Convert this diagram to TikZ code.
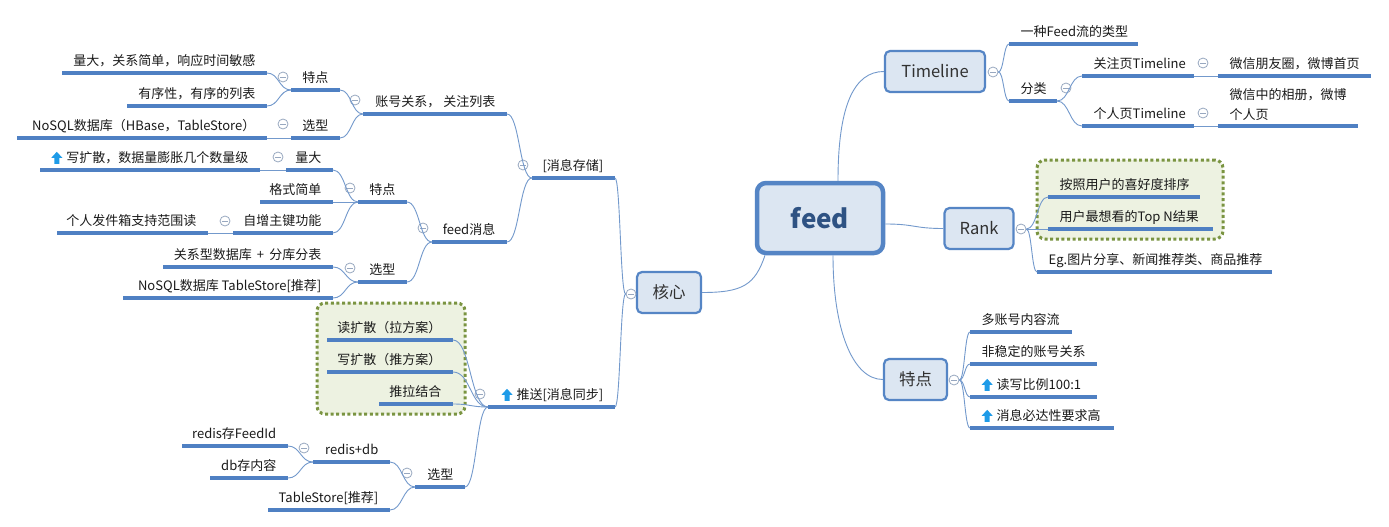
\documentclass[tikz,border=0pt]{standalone}
\usepackage{fontspec}
\setmainfont{Noto Sans CJK SC}
\usetikzlibrary{calc}
\definecolor{ulc}{HTML}{4F80C3}
\definecolor{brc}{HTML}{7399CC}
\definecolor{mkc}{HTML}{98A8C0}
\definecolor{boxf}{HTML}{DCE6F2}
\definecolor{boxd}{HTML}{5585C5}
\definecolor{feedt}{HTML}{2E5283}
\definecolor{grf}{HTML}{EDF2E1}
\definecolor{grd}{HTML}{7A9441}
\definecolor{arrc}{HTML}{1E9BE8}
\definecolor{txt}{HTML}{1A1A1A}
\newcommand\upic{\tikz[baseline=1pt,x=1pt,y=1pt]\fill[arrc] (3,0)--(8,0)--(8,6)--(11,6)--(5.5,12)--(0,6)--(3,6)--cycle;\hspace{4pt}}
\tikzset{
  leafbase/.style={font=\fontsize{13}{16}\selectfont, text=txt, inner xsep=11.5pt, inner ysep=7pt},
  leaf/.style={leafbase, text depth=0pt},
  ul/.style={draw=ulc, line width=3.2pt},
  brl/.style={draw=brc, line width=0.9pt},
  topic/.style={draw=boxd, fill=boxf, line width=2.2pt, rounded corners=5pt, font=\fontsize{16.5}{20}\selectfont, text=txt!90, inner sep=0pt},
  feedbox/.style={draw=boxd, fill=boxf, line width=4.5pt, rounded corners=9pt, font=\fontsize{26}{30}\selectfont\bfseries, text=feedt, inner sep=0pt},
  mk/.style={circle, draw=mkc, fill=white, line width=0.8pt, minimum size=10pt, inner sep=0pt,
    path picture={\draw[mkc, line width=0.8pt] ([xshift=-2.8pt]path picture bounding box.center) -- ([xshift=2.8pt]path picture bounding box.center);}},
  bound/.style={draw=grd, fill=grf, line width=3pt, dash pattern=on 3pt off 2.6pt, rounded corners=8pt, inner sep=0pt}
}
% left leaf: name, x1, x2, y, text
\newcommand\Lf[5]{\node[leaf, anchor=south east] (#1) at (#3,#4) {#5};\coordinate (#1w) at (#2,#4);\draw[ul] (#1w) -- (#1.south east);}
% right leaf
\newcommand\Rt[5]{\node[leaf, anchor=south west] (#1) at (#2,#4) {#5};\coordinate (#1e) at (#3,#4);\draw[ul] (#1.south west) -- (#1e);}
\newcommand\br[2]{\path ($(#1)!0.5!(#2)$) coordinate (bm);\draw[brl] (#1) .. controls (#1 -| bm) and (#2 -| bm) .. (#2);}
\begin{document}
\begin{tikzpicture}[x=1pt,y=-1pt]
\useasboundingbox (0,0) rectangle (1389,527);
\fill[white] (0,0) rectangle (1389,527);
% boundaries
\node[bound, minimum width=186pt, minimum height=79pt] (bd1) at (1130,199.5) {};
\node[bound, minimum width=148pt, minimum height=111pt] (bd2) at (391,358.5) {};
% main boxes
\node[feedbox, minimum width=126pt, minimum height=70pt] (feed) at (820,218) {feed};
\node[topic, minimum width=100pt, minimum height=41pt] (tl) at (935,71.5) {Timeline};
\node[topic, minimum width=69pt, minimum height=41pt] (rk) at (979,228.5) {Rank};
\node[topic, minimum width=63pt, minimum height=41pt] (tp) at (915.5,379.5) {特点};
\node[topic, minimum width=64pt, minimum height=41pt] (kx) at (669,292.5) {核心};
% feed connectors
\draw[brl] ([xshift=18pt]feed.north) .. controls +(0,-75) and +(-30,0) .. (tl.west);
\draw[brl] ([yshift=-6pt]feed.east) .. controls +(30,0) and +(-30,0) .. (rk.west);
\draw[brl] ([xshift=13pt]feed.south) .. controls +(0,75) and +(-30,0) .. (tp.west);
\draw[brl] ([xshift=-55pt]feed.south) .. controls +(-10,30) and +(40,0) .. (kx.east);
% left leaves
\Lf{a1}{62}{267}{73}{量大，关系简单，响应时间敏感}
\Lf{a2}{127}{267}{106}{有序性，有序的列表}
\Lf{a3}{17}{267}{138}{NoSQL数据库（HBase，TableStore）}
\Lf{b1}{291}{340}{90}{特点}
\Lf{b2}{291}{340}{138}{选型}
\Lf{c1}{363}{507}{114}{账号关系， 关注列表}
\Lf{c2}{432}{507}{242}{feed消息}
\Lf{d1}{532}{615}{178}{[消息存储]}
\Lf{d2}{488}{615}{407}{\upic 推送[消息同步]}
\Lf{e1}{40}{260}{170}{\upic 写扩散，数据量膨胀几个数量级}
\Lf{e2}{286}{333}{170}{量大}
\Lf{e3}{260}{333}{202}{格式简单}
\Lf{e4}{233}{333}{233}{自增主键功能}
\Lf{e5}{57}{208}{233}{个人发件箱支持范围读}
\Lf{f1}{358}{407}{202}{特点}
\Lf{f2}{358}{407}{282}{选型}
\Lf{g1}{163}{333}{267}{关系型数据库 \,+\, 分库分表}
\Lf{g2}{123}{333}{298}{NoSQL数据库 TableStore[推荐]}
\Lf{h1}{327}{453}{340}{读扩散（拉方案）}
\Lf{h2}{327}{453}{372}{写扩散（推方案）}
\Lf{h3}{379}{453}{404}{推拉结合}
\Lf{i1}{415}{465}{487}{选型}
\Lf{j1}{313}{390}{462}{redis+db}
\Lf{j2}{268}{390}{510}{TableStore[推荐]}
\Lf{k1}{182}{288}{446}{redis存FeedId}
\Lf{k2}{210}{288}{478}{db存内容}
% right leaves
\Rt{r1}{1009}{1138}{44}{一种Feed流的类型}
\Rt{r2}{1009}{1057}{101}{分类}
\Rt{r3}{1082}{1194}{76}{关注页Timeline}
\Rt{r4}{1082}{1194}{126}{个人页Timeline}
\Rt{r5}{1218}{1371}{76}{微信朋友圈，微博首页}
\node[leafbase, anchor=south west, align=left, inner ysep=5.5pt, font=\fontsize{13}{20}\selectfont] (r6) at (1218,126) {微信中的相册，微博\\个人页};
\coordinate (r6e) at (1358,126);
\draw[ul] (r6.south west) -- (r6e);
\Rt{s1}{1048}{1200}{197}{按照用户的喜好度排序}
\Rt{s2}{1048}{1213}{229}{用户最想看的Top N结果}
\Rt{s3}{1037}{1272}{272}{Eg.图片分享、新闻推荐类、商品推荐}
\Rt{t1}{970}{1072}{332}{多账号内容流}
\Rt{t2}{970}{1097}{364}{非稳定的账号关系}
\Rt{t3}{970}{1097}{397}{\upic 读写比例100:1}
\Rt{t4}{970}{1114}{428}{\upic 消息必达性要求高}
% markers
\node[mk] (mkx) at (631,294) {};
\node[mk] (md1) at (523,165) {};
\node[mk] (mc1) at (355,100) {};
\node[mk] (mb1) at (283,77) {};
\node[mk] (mb2) at (283,124) {};
\node[mk] (mc2) at (423,228) {};
\node[mk] (mf1) at (350,188) {};
\node[mk] (me2) at (278,157) {};
\node[mk] (me4) at (225,221) {};
\node[mk] (mf2) at (350,268) {};
\node[mk] (md2) at (480,394) {};
\node[mk] (mi1) at (407,473) {};
\node[mk] (mj1) at (304,448) {};
\node[mk] (mtl) at (993,72) {};
\node[mk] (mr2) at (1066,88) {};
\node[mk] (mr3) at (1203,63) {};
\node[mk] (mr4) at (1203,113) {};
\node[mk] (mrk) at (1021,229) {};
\node[mk] (mtp) at (954,380) {};
% branches left
\br{mkx.west}{d1.south east}
\br{mkx.west}{d2.south east}
\br{d1w}{c1.south east}
\br{d1w}{c2.south east}
\br{c1w}{b1.south east}
\br{c1w}{b2.south east}
\br{b1w}{a1.south east}
\br{b1w}{a2.south east}
\br{b2w}{a3.south east}
\br{c2w}{f1.south east}
\br{c2w}{f2.south east}
\br{f1w}{e2.south east}
\br{f1w}{e3.south east}
\br{f1w}{e4.south east}
\br{e2w}{e1.south east}
\br{e4w}{e5.south east}
\br{f2w}{g1.south east}
\br{f2w}{g2.south east}
\br{d2w}{h1.south east}
\br{d2w}{h2.south east}
\br{d2w}{h3.south east}
\br{d2w}{i1.south east}
\br{i1w}{j1.south east}
\br{i1w}{j2.south east}
\br{j1w}{k1.south east}
\br{j1w}{k2.south east}
% branches right
\br{mtl.east}{r1.south west}
\br{mtl.east}{r2.south west}
\br{r2e}{r3.south west}
\br{r2e}{r4.south west}
\br{r3e}{r5.south west}
\br{r4e}{r6.south west}
\br{mrk.east}{s1.south west}
\br{mrk.east}{s2.south west}
\br{mrk.east}{s3.south west}
\br{mtp.east}{t1.south west}
\br{mtp.east}{t2.south west}
\br{mtp.east}{t3.south west}
\br{mtp.east}{t4.south west}
\end{tikzpicture}
\end{document}
